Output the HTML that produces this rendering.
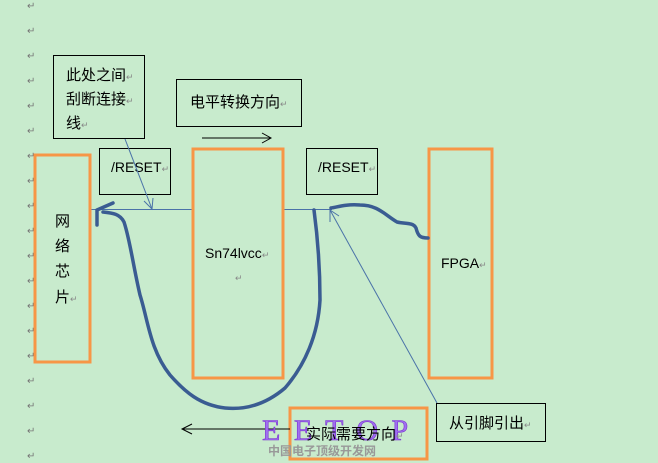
<!DOCTYPE html>
<html><head><meta charset="utf-8"><style>
html,body{margin:0;padding:0;background:#c8ebcd;}
svg{display:block}
text{font-family:"Liberation Sans","Noto Sans CJK SC",sans-serif;}
</style></head><body>
<svg width="658" height="463" viewBox="0 0 658 463" xmlns="http://www.w3.org/2000/svg">
<rect width="658" height="463" fill="#c8ebcd"/>
<g fill="#777" font-size="10">
<text x="27" y="9">↵</text><text x="27" y="34">↵</text><text x="27" y="59">↵</text><text x="27" y="84">↵</text><text x="27" y="109">↵</text><text x="27" y="134">↵</text><text x="27" y="159">↵</text><text x="27" y="184">↵</text><text x="27" y="209">↵</text><text x="27" y="234">↵</text><text x="27" y="259">↵</text><text x="27" y="284">↵</text><text x="27" y="309">↵</text><text x="27" y="334">↵</text><text x="27" y="359">↵</text><text x="27" y="384">↵</text><text x="27" y="409">↵</text><text x="27" y="434">↵</text><text x="27" y="459">↵</text>
</g>
<rect x="53.5" y="55.5" width="91" height="83" fill="none" stroke="#000" stroke-width="1"/>
<text x="66" y="80" font-size="15">此处之间<tspan fill="#888" font-size="9">↵</tspan></text>
<text x="66" y="104" font-size="15">刮断连接<tspan fill="#888" font-size="9">↵</tspan></text>
<text x="66" y="128" font-size="15">线<tspan fill="#888" font-size="9">↵</tspan></text>
<rect x="176.5" y="79.5" width="125" height="47" fill="none" stroke="#000"/>
<text x="190" y="107" font-size="15">电平转换方向<tspan fill="#888" font-size="9">↵</tspan></text>
<line x1="202" y1="138" x2="271" y2="138" stroke="#000"/>
<polyline points="262,133 271,138 262,143" fill="none" stroke="#000"/>
<rect x="99.5" y="148.5" width="71" height="46" fill="none" stroke="#000"/>
<text x="111" y="172" font-size="14">/RESET<tspan fill="#888" font-size="9">↵</tspan></text>
<rect x="306.5" y="148.5" width="71" height="46" fill="none" stroke="#000"/>
<text x="318" y="172" font-size="14">/RESET<tspan fill="#888" font-size="9">↵</tspan></text>
<line x1="90" y1="209.5" x2="192" y2="209.5" stroke="#4a72a8"/>
<line x1="283" y1="209.5" x2="332" y2="209.5" stroke="#4a72a8"/>
<line x1="125" y1="139" x2="152" y2="209" stroke="#4a72a8"/>
<polyline points="144,201 152,209 153,198" fill="none" stroke="#4a72a8"/>
<line x1="437" y1="403" x2="330" y2="210" stroke="#4a72a8"/>
<polyline points="330,222 330,210 339,216" fill="none" stroke="#4a72a8"/>
<g fill="none" stroke="#f79646" stroke-width="3">
<rect x="35" y="155" width="55" height="207"/>
<rect x="193" y="149" width="90" height="229"/>
<rect x="429" y="149" width="63" height="229"/>
<rect x="290" y="408" width="137" height="51"/>
</g>
<g font-size="15">
<text x="55" y="226">网</text><text x="55" y="251">络</text><text x="55" y="276">芯</text><text x="55" y="302">片<tspan fill="#888" font-size="9">↵</tspan></text>
</g>
<text x="205" y="258" font-size="14">Sn74lvcc<tspan fill="#888" font-size="9">↵</tspan></text>
<text x="235" y="281" fill="#888" font-size="9">↵</text>
<text x="441" y="268" font-size="14">FPGA<tspan fill="#888" font-size="9">↵</tspan></text>
<g fill="none" stroke="#3a5c92" stroke-width="3.5" stroke-linecap="round" stroke-linejoin="round">
<path d="M314,210 C318,240 320,270 320,300 C318,335 305,365 285,388 C265,405 245,410 225,408 C200,405 185,392 170,375 C150,350 148,320 140,295 C133,265 130,240 124,222 C120,214 113,213 103,212"/>
<path d="M97,210 L97,225 M97,210 L113,203"/>
<path d="M428,238 C420,238 418,236 416,228 C413,222 405,224 397,222 C385,215 378,205 360,205 C345,204 338,207 331,208"/>
</g>
<line x1="182" y1="429" x2="290" y2="429" stroke="#000"/>
<polyline points="192,424 182,429 192,434" fill="none" stroke="#000"/>
<text x="262" y="440" style="font-family:'Liberation Serif',serif;font-size:30px" fill="#a070f0" stroke="#7a2fd0" stroke-width="0.6" letter-spacing="3">E E T O P</text>
<text x="306" y="439" font-size="15">实际需要方向<tspan fill="#888" font-size="9">↵</tspan></text>
<text x="268" y="455" font-size="12" fill="#999" font-weight="bold">中国电子顶级开发网</text>
<rect x="436.5" y="403.5" width="109" height="38" fill="none" stroke="#000"/>
<text x="449" y="428" font-size="15">从引脚引出<tspan fill="#888" font-size="9">↵</tspan></text>
</svg>
</body></html>
